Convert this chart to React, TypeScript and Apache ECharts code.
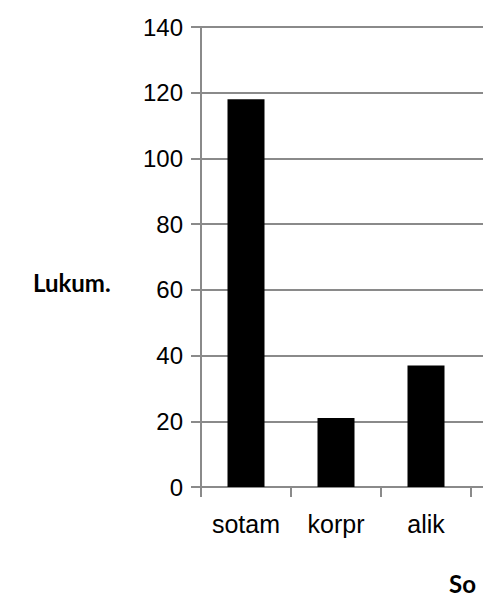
import React, { useEffect, useRef } from "react";
import * as echarts from "echarts";

const categories = ["sotam", "korpr", "alik", ""];
const values: (number | null)[] = [118, 21, 37, null];
const yTicks = { min: 0, max: 140, interval: 20 };
const yAxisTitle = "Lukum.";
const xAxisTitle = "So";

export default function App() {
  const ref = useRef<HTMLDivElement>(null);
  useEffect(() => {
    if (!ref.current) return;
    const chart = echarts.init(ref.current, null, { renderer: "svg" });
    const grey = "#8a8a8a";
    chart.setOption({
      animation: false,
      backgroundColor: "#ffffff",
      grid: { left: 201, top: 27, width: 360, height: 460, containLabel: false },
      xAxis: {
        type: "category",
        data: categories,
        boundaryGap: true,
        axisLine: { show: true, lineStyle: { color: grey, width: 2 } },
        axisTick: { show: true, length: 10, alignWithLabel: false, lineStyle: { color: grey, width: 2 } },
        axisLabel: {
          margin: 24,
          color: "#000",
          fontFamily: "Liberation Sans, Arial, sans-serif",
          fontSize: 25,
        },
        splitLine: { show: false },
      },
      yAxis: {
        type: "value",
        min: yTicks.min,
        max: yTicks.max,
        interval: yTicks.interval,
        axisLine: { show: true, lineStyle: { color: grey, width: 2 } },
        axisTick: { show: true, length: 10, lineStyle: { color: grey, width: 2 } },
        axisLabel: {
          margin: 18,
          color: "#000",
          fontFamily: "Liberation Sans, Arial, sans-serif",
          fontSize: 24,
        },
        splitLine: { show: true, lineStyle: { color: grey, width: 2 } },
      },
      series: [
        {
          type: "bar",
          data: values,
          barWidth: 37,
          itemStyle: { color: "#000000" },
        },
      ],
      graphic: [
        {
          type: "text",
          left: 33,
          top: 270,
          style: {
            text: yAxisTitle,
            fill: "#000",
            font: "bold 24px Lato, 'Open Sans', sans-serif",
          },
        },
        {
          type: "text",
          left: 449,
          top: 571,
          style: {
            text: xAxisTitle,
            fill: "#000",
            font: "bold 24px Lato, 'Open Sans', sans-serif",
          },
        },
      ],
    });
    return () => chart.dispose();
  }, []);
  return (
    <div
      style={{
        position: "absolute",
        left: 0,
        top: 0,
        width: 483,
        height: 599,
        overflow: "hidden",
        background: "#fff",
      }}
    >
      <div ref={ref} style={{ width: 620, height: 599 }} />
    </div>
  );
}
